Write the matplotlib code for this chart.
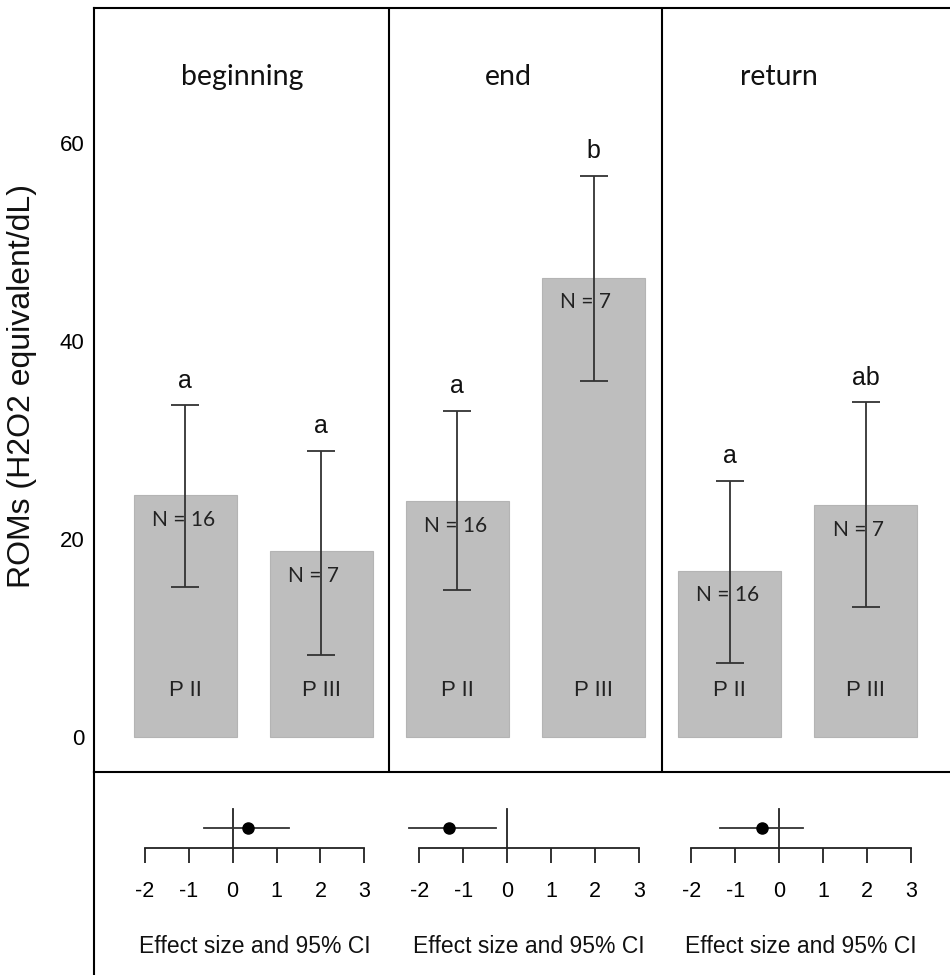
import matplotlib
matplotlib.use("Agg")
import matplotlib.pyplot as plt
from matplotlib.lines import Line2D
import numpy as np

# ---------------- data ----------------
phases = ["beginning", "end", "return"]
groups = ["P II", "P III"]
means = [24.4, 18.8, 23.8, 46.4, 16.8, 23.4]
upper = [33.5, 28.9, 32.9, 56.7, 25.9, 33.8]
lower = [15.2, 8.3, 14.8, 36.0, 7.5, 13.1]
letters = ["a", "a", "a", "b", "a", "ab"]
n_sizes = [16, 7, 16, 7, 16, 7]
yticks = [0, 20, 40, 60]

effect = [0.35, -1.32, -0.39]
ci_low = [-0.65, -2.23, -1.34]
ci_high = [1.29, -0.25, 0.55]
es_ticks = [-2, -1, 0, 1, 2, 3]

# ---------------- figure ----------------
W, H = 950, 975
fig = plt.figure(figsize=(W / 100, H / 100), dpi=100)

ARIAL = "Liberation Sans"
CAL = "Lato"
LW = 1.5

# pixel mapping for main axes
x0_px, dx_px = 185.0, 136.2       # bar 0 centre, spacing
y0_px, dy_px = 737.0, 9.9         # y=0 pixel, px per unit
left_px, right_px, top_px, bot_px = 94, 952, 8, 772

ax = fig.add_axes([left_px / W, 1 - bot_px / H, (right_px - left_px) / W, (bot_px - top_px) / H])
ax.set_xlim((left_px - x0_px) / dx_px, (right_px - x0_px) / dx_px)
ax.set_ylim((y0_px - bot_px) / dy_px, (y0_px - top_px) / dy_px)

xpos = np.arange(len(means))
means_a = np.array(means)
up_a = np.array(upper)
lo_a = np.array(lower)

ax.bar(xpos, means_a, width=103 / dx_px, color="#bebebe", edgecolor="#b4b4b4", linewidth=0.8, zorder=2)
ax.errorbar(xpos, means_a, yerr=[means_a - lo_a, up_a - means_a], fmt="none",
            ecolor="#333333", elinewidth=1.3, capsize=10, capthick=1.3, zorder=3)

labels_grp = groups * len(phases)
for i in range(len(means)):
    ax.text(xpos[i], up_a[i] + 1.8, letters[i], ha="center", va="baseline",
            fontsize=18, family=ARIAL, color="#111111", zorder=4)
    ax.text(xpos[i] - 0.245, means_a[i] - 2.5, f"N = {n_sizes[i]}", ha="left", va="center",
            fontsize=15, family=CAL, color="#222222", zorder=4)
    ax.text(xpos[i], 4.7, labels_grp[i], ha="center", va="center",
            fontsize=16, family=ARIAL, color="#222222", zorder=4)

# facet separators
for k in range(1, len(phases)):
    ax.axvline(2 * k - 0.5, color="black", lw=LW, zorder=5)

# facet titles
title_px = [242, 508, 779]
for k, ph in enumerate(phases):
    ax.text((title_px[k] - x0_px) / dx_px, (y0_px - 77) / dy_px, ph, ha="center", va="center",
            fontsize=20.5, family=CAL, color="#111111")

ax.set_yticks(yticks)
ax.set_yticklabels([str(t) for t in yticks], fontsize=16, family=ARIAL)
ax.tick_params(axis="y", length=0, pad=7)
ax.set_xticks([])
for s in ["left", "top", "bottom"]:
    ax.spines[s].set_linewidth(LW)
    ax.spines[s].set_color("black")
ax.spines["right"].set_visible(False)

fig.text(22 / W, 1 - 386 / H, "ROMs (H2O2 equivalent/dL)", rotation=90, ha="center", va="center",
         fontsize=23, family=ARIAL, color="#111111")

# left border continuing through bottom panel
fig.add_artist(Line2D([left_px / W, left_px / W], [0, 1 - bot_px / H], color="black", lw=LW,
                      transform=fig.transFigure))

# ---------------- forest plots ----------------
es_scale = 43.9
zero_px = [232.6, 507.0, 779.0]
axis_y_px, top_f_px = 848, 800
for k in range(len(phases)):
    lpx = zero_px[k] - 2.5 * es_scale
    fa = fig.add_axes([lpx / W, 1 - axis_y_px / H, 6 * es_scale / W, (axis_y_px - top_f_px) / H])
    fa.set_xlim(-2.5, 3.5)
    fa.set_ylim(0, 1)
    fa.patch.set_visible(False)
    for s in ["left", "right", "top"]:
        fa.spines[s].set_visible(False)
    fa.spines["bottom"].set_bounds(es_ticks[0], es_ticks[-1])
    fa.spines["bottom"].set_linewidth(1.3)
    fa.spines["bottom"].set_color("#222222")
    fa.set_yticks([])
    fa.set_xticks(es_ticks)
    fa.set_xticklabels([str(t) for t in es_ticks], fontsize=15.5, family=ARIAL)
    fa.tick_params(axis="x", direction="out", length=10.8, width=1.3, color="#222222", pad=13)
    fa.plot([0, 0], [0, 0.8125], color="#222222", lw=1.3, clip_on=False)
    fa.plot([ci_low[k], ci_high[k]], [0.417, 0.417], color="#333333", lw=1.3, clip_on=False)
    fa.plot([effect[k]], [0.417], "o", color="black", markersize=8, clip_on=False, zorder=5)
    fa.set_xlabel("Effect size and 95% CI", fontsize=16.5, family=ARIAL, labelpad=24, color="#111111")

fig.savefig("out.png", dpi=100)
